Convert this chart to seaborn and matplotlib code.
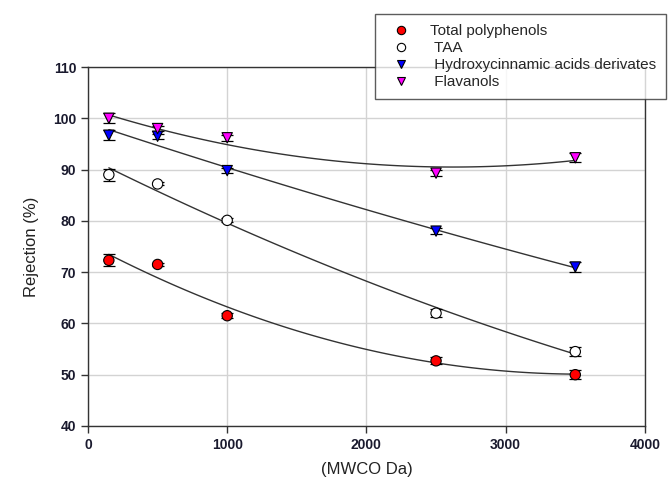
import numpy as np
import pandas as pd
import seaborn as sns
from matplotlib import pyplot as plt

# values
mwco = [150, 500, 1000, 2500, 3500]
total_polyphenols = [72.3, 71.5, 61.5, 52.7, 50.0]
taa = [89.0, 87.2, 80.1, 62.0, 54.5]
hydroxycinnamic = [96.7, 96.5, 89.8, 78.0, 71.0]
flavanols = [100.0, 98.0, 96.2, 89.3, 92.3]

err_polyphenols = [1.2, 0.3, 0.5, 0.7, 0.9]
err_taa = [1.2, 0.3, 0.4, 0.8, 0.9]
err_hydroxy = [1.0, 0.5, 0.5, 0.6, 0.9]
err_flavanols = [1.0, 0.5, 0.6, 0.6, 0.9]

series_labels = ["Total polyphenols", " TAA", " Hydroxycinnamic acids derivates", " Flavanols"]
x_ticks = [0, 1000, 2000, 3000, 4000]
y_ticks = [40, 50, 60, 70, 80, 90, 100, 110]

sns.set_style("ticks")
plt.rcParams["font.family"] = ["Liberation Sans", "DejaVu Sans"]

fig = plt.figure(figsize=(6.71, 4.87), dpi=100)
ax = fig.add_axes([0.1311, 0.1253, 0.8300, 0.7371])

series = [
    (total_polyphenols, err_polyphenols, "o", "red"),
    (taa, err_taa, "o", "white"),
    (hydroxycinnamic, err_hydroxy, "v", "blue"),
    (flavanols, err_flavanols, "v", "magenta"),
]

frames = []
for (vals, errs, mk, col), lab in zip(series, series_labels):
    frames.append(pd.DataFrame({"MWCO": mwco, "Rejection": vals, "err": errs, "series": lab}))
df = pd.concat(frames, ignore_index=True)

# quadratic regression lines through each series
for lab in series_labels:
    sub = df[df["series"] == lab]
    sns.regplot(data=sub, x="MWCO", y="Rejection", order=2, ci=None, scatter=False,
                ax=ax, line_kws={"color": "#333333", "lw": 1.0, "zorder": 2})

# error bars
for (vals, errs, mk, col), lab in zip(series, series_labels):
    ax.errorbar(mwco, vals, yerr=errs, fmt="none", ecolor="black", elinewidth=0.9,
                capsize=4.5, capthick=0.9, zorder=3)

markers = {lab: s[2] for lab, s in zip(series_labels, series)}
palette = {lab: s[3] for lab, s in zip(series_labels, series)}
sns.scatterplot(data=df, x="MWCO", y="Rejection", hue="series", style="series",
                markers=markers, palette=palette, hue_order=series_labels,
                s=55, edgecolor="black", linewidth=0.8, ax=ax, zorder=4, legend=True)

ax.set_xlim(0, 4000)
ax.set_ylim(40, 110)
ax.set_xticks(x_ticks)
ax.set_yticks(y_ticks)
ax.grid(True, color="#d3d3d3", lw=1.0)
ax.set_axisbelow(True)
for sp in ax.spines.values():
    sp.set_visible(True)
    sp.set_color("#333333")
    sp.set_linewidth(1.0)
ax.tick_params(axis="both", direction="out", length=5, width=1.0, color="#333333",
               labelsize=10, labelcolor="#1a1a2e")
for t in ax.get_xticklabels() + ax.get_yticklabels():
    t.set_fontweight("bold")
ax.set_xlabel("(MWCO Da)", fontsize=12, color="#222222", labelpad=7)
ax.set_ylabel("Rejection (%)", fontsize=12, color="#222222", labelpad=10)

handles, labels = ax.get_legend_handles_labels()
ax.get_legend().remove()
for h in handles:
    h.set_markeredgecolor("black")
    h.set_markersize(6)
leg = fig.legend(handles, labels, loc="upper left", bbox_to_anchor=(375 / 671, 1 - 14 / 487),
                 frameon=True, fancybox=False, edgecolor="#333333", fontsize=11,
                 labelspacing=0.19, handletextpad=0.9, borderpad=0.68, borderaxespad=0)
leg.get_frame().set_linewidth(1.0)

fig.savefig("out.png", dpi=100)
